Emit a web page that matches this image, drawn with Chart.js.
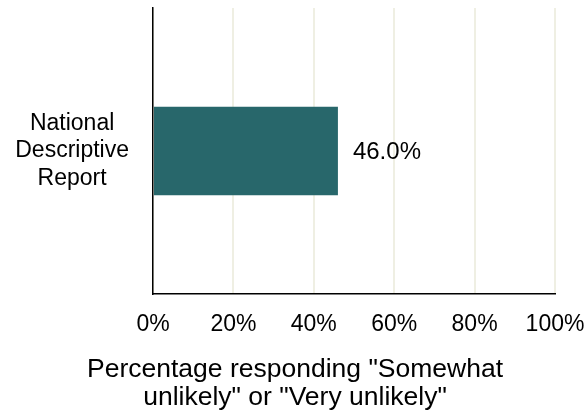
<!DOCTYPE html>
<html>
<head>
<meta charset="utf-8">
<script src="https://cdn.jsdelivr.net/npm/chart.js@4/dist/chart.umd.min.js"></script>
<style>
  html, body { margin: 0; padding: 0; background: #fff; }
  #wrap { width: 587px; height: 412px; }
</style>
</head>
<body>
<div id="wrap"><canvas id="barChart" width="587" height="412"></canvas></div>
<script>
const categories = [["National", "Descriptive", "Report"]];
const percentUnlikely = [46.0];
const xTicks = [0, 20, 40, 60, 80, 100];
const xTitle = ['Percentage responding "Somewhat', 'unlikely" or "Very unlikely"'];

const FONT = "'Liberation Sans', Arial, sans-serif";
const FONT_SIZE = 23;

// writes the value just past the end of each bar
const valueLabels = {
  id: "valueLabels",
  afterDatasetsDraw(chart) {
    const ctx = chart.ctx;
    const meta = chart.getDatasetMeta(0);
    ctx.save();
    ctx.font = "24px " + FONT;
    ctx.fillStyle = "#000";
    ctx.textAlign = "left";
    ctx.textBaseline = "middle";
    meta.data.forEach((bar, i) => {
      ctx.fillText(percentUnlikely[i].toFixed(1) + "%", bar.x + 15, bar.y + 1);
    });
    ctx.restore();
  }
};

// axis title, centred on the whole canvas below the tick labels
const axisTitle = {
  id: "axisTitle",
  afterDraw(chart) {
    const ctx = chart.ctx;
    ctx.save();
    ctx.font = "26.5px " + FONT;
    ctx.fillStyle = "#000";
    ctx.textAlign = "center";
    ctx.textBaseline = "middle";
    xTitle.forEach((line, i) => {
      ctx.fillText(line, 295, 370 + i * 28);
    });
    ctx.restore();
  }
};

const ctx = document.getElementById("barChart").getContext("2d");
new Chart(ctx, {
  type: "bar",
  data: {
    labels: categories,
    datasets: [{
      data: percentUnlikely,
      backgroundColor: "#28676b",
      borderWidth: 0,
      categoryPercentage: 1,
      barPercentage: 0.31
    }]
  },
  options: {
    indexAxis: "y",
    responsive: false,
    animation: false,
    layout: { padding: { top: 8, right: 32, bottom: 0, left: 0 } },
    plugins: {
      legend: { display: false },
      tooltip: { enabled: false }
    },
    scales: {
      x: {
        min: 0,
        max: 100,
        afterBuildTicks(scale) {
          scale.ticks = xTicks.map(v => ({ value: v }));
        },
        afterFit(scale) {
          scale.height = 412 - 294;
          scale.paddingLeft = 0;
          scale.paddingRight = 0;
        },
        grid: { color: "#efefe3", lineWidth: 2, drawTicks: false },
        border: { color: "#000", width: 1.5 },
        ticks: {
          padding: 17,
          color: "#000",
          font: { family: FONT, size: FONT_SIZE },
          maxRotation: 0,
          callback: v => v + "%"
        }
      },
      y: {
        afterFit(scale) {
          scale.width = 153;
          scale.paddingTop = 0;
          scale.paddingBottom = 0;
        },
        grid: { display: false, drawTicks: false },
        border: { color: "#000", width: 1.5 },
        ticks: {
          padding: 24,
          crossAlign: "center",
          color: "#000",
          font: { family: FONT, size: FONT_SIZE, lineHeight: 1.2 }
        }
      }
    }
  },
  plugins: [valueLabels, axisTitle]
});
</script>
</body>
</html>
